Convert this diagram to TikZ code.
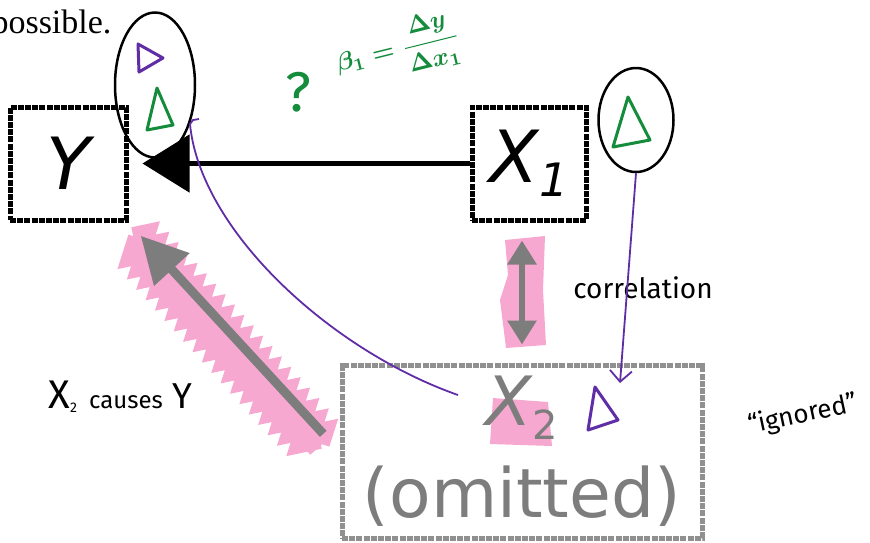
\documentclass[tikz,border=0pt]{standalone}
\usepackage{fontspec}
\setmainfont{Liberation Serif}
\newfontfamily\boxfont{DejaVu Sans}
\newfontfamily\handfont{Fira Sans}
\usetikzlibrary{arrows.meta,positioning,shapes.geometric,decorations.pathmorphing}
\definecolor{hlpink}{RGB}{247,168,208}
\definecolor{penpurple}{RGB}{95,45,165}
\definecolor{pengreen}{RGB}{20,140,60}
\definecolor{omitgray}{RGB}{125,125,125}

\begin{document}
\begin{tikzpicture}[
    x=1pt, y=-1pt,
    varbox/.style={rectangle, draw=black, line width=5pt, dash pattern=on 6pt off 1.2pt, minimum width=116pt, minimum height=113pt, inner sep=0pt, font=\boxfont\itshape\fontsize{72}{72}\selectfont},
    omitbox/.style={varbox, draw=omitgray!85, text=omitgray, minimum width=360pt, minimum height=173pt, align=center, font=\boxfont\fontsize{68}{92}\selectfont},
    ringmark/.style={ellipse, draw=black, line width=2.5pt, inner sep=0pt},
    delta/.style={line width=3pt, line join=round},
    penline/.style={draw=penpurple, line width=1.8pt},
    handnote/.style={font=\handfont\fontsize{28}{28}\selectfont},
    causal/.style={line width=5pt, -{Triangle[length=47pt,width=57pt]}},
    omitarrow/.style={draw=omitgray, line width=9pt, -{Triangle[length=46pt,width=46pt]}},
    corrarrow/.style={draw=omitgray, line width=6pt, {Triangle[length=24pt,width=28pt]}-{Triangle[length=24pt,width=28pt]}}
]
\useasboundingbox (0,0) rectangle (870,542);

% Highlights
\fill[hlpink] (505,240) -- (545,236) -- (543,290) -- (546,345) -- (506,348) -- (500,300) -- (508,275) -- cycle;
\fill[hlpink] (493,398) -- (548,402) -- (552,446) -- (490,444) -- cycle;
\draw[hlpink, line width=26pt, decorate, decoration={zigzag, segment length=14pt, amplitude=6pt}] (134,240) -- (320,446);

% Nodes
\node[anchor=base west, font=\fontsize{34}{34}\selectfont] (prev) at (-12,33) {possible.};
\node[varbox] (Y) at (68,163.5) {Y};
\node[varbox, minimum width=114pt] (X1) at (529,163.5) {X\raisebox{-14pt}{\fontsize{46}{46}\selectfont 1}};
\node[omitbox] (X2) at (522,451.5) {{\itshape X}\raisebox{-14pt}{\fontsize{40}{40}\selectfont 2}\\(omitted)};
\node[ringmark, minimum width=80pt, minimum height=145pt] (ringY) at (155,85) {};
\node[ringmark, minimum width=75pt, minimum height=104pt] (ringX1) at (636,120) {};

% Pen notes
\node[handnote, text=pengreen, font=\handfont\fontsize{56}{56}\selectfont] (qmark) at (298,92) {?};
\node[text=pengreen, font=\boldmath, rotate=14] (slope) at (398,50) {\scalebox{2.5}{$\displaystyle\beta_1=\frac{\Delta y}{\Delta x_1}$}};
\node[handnote] (corr) at (643,288) {correlation};
\node[handnote, rotate=12, font=\handfont\fontsize{26}{26}\selectfont] (ign) at (803,415) {“ignored”};
\node[handnote, anchor=base west, font=\handfont\fontsize{24}{24}\selectfont] (cause) at (45,408) {{\fontsize{40}{40}\selectfont X}\raisebox{-4pt}{\fontsize{14}{14}\selectfont 2}\hspace{12pt}causes\hspace{10pt}{\fontsize{36}{36}\selectfont Y}};

\draw[delta, pengreen] (157,88) -- (147,130) -- (173,125) -- cycle;
\draw[delta, penpurple] (138,44) -- (163,58) -- (139,72) -- cycle;
\draw[delta, pengreen] (628,97) -- (613,147) -- (650,140) -- cycle;
\draw[delta, penpurple] (595,387) -- (588,430) -- (618,420) -- cycle;

% Arrows
\draw[causal, shorten >=14pt] (X1) -- (Y);
\draw[omitarrow, shorten <=24pt, shorten >=18pt] (X2.west) -- (Y.south east);
\draw[corrarrow, shorten <=18pt, shorten >=18pt] (X2.north |- X1.south) -- (X2.north);

\coordinate (fromX2) at (458,395);
\coordinate (hookY) at (190,124);
\coordinate (intoX2) at (620,383);
\draw[penline] (fromX2) .. controls (330,350) and (200,230) .. (hookY) -- ++(3,-4) -- ++(6,-1);
\draw[penline, -{Straight Barb[length=11pt,width=22pt]}] (ringX1.south) -- (intoX2);

\end{tikzpicture}
\end{document}
